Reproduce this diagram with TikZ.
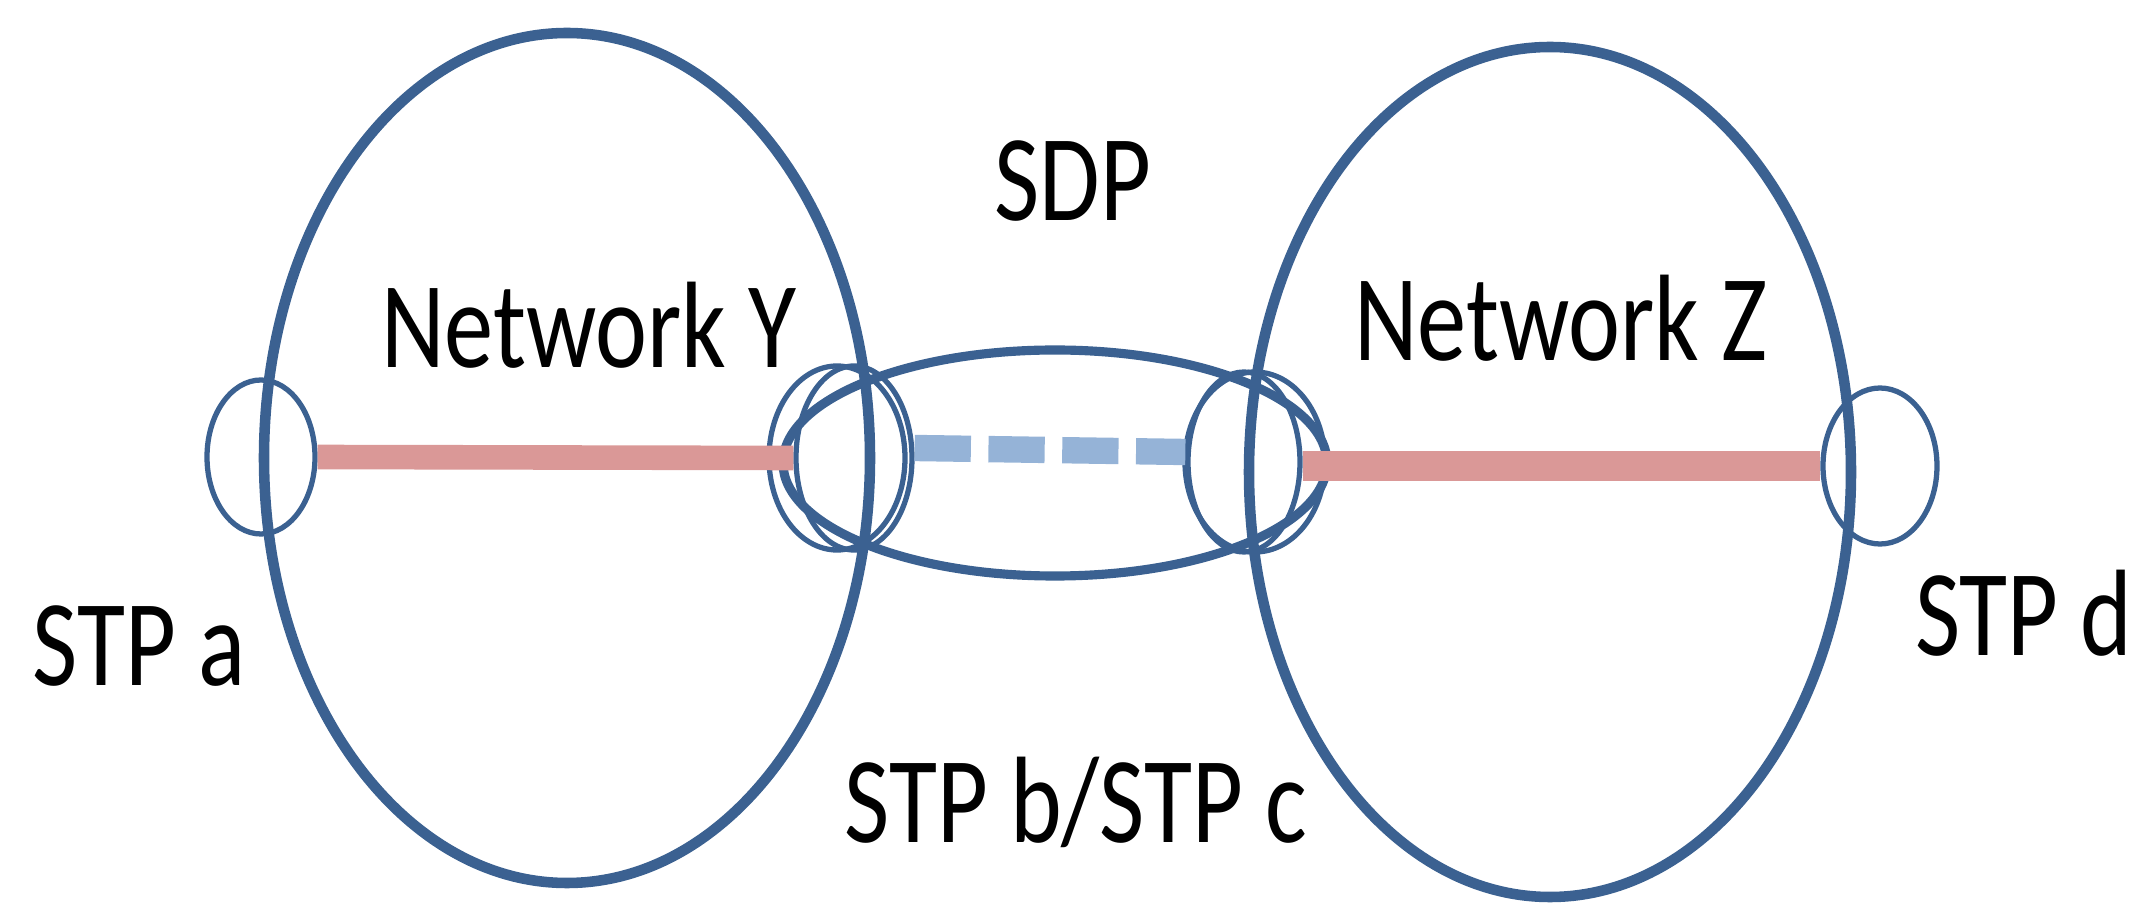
\documentclass[tikz,border=0pt]{standalone}
\usepackage{fontspec}
\setmainfont{Carlito}[FakeStretch=0.8]
\usetikzlibrary{shapes.geometric}

\definecolor{netblue}{HTML}{3B6191}
\definecolor{linkred}{HTML}{DA9897}
\definecolor{linkblue}{HTML}{95B3D7}

\tikzset{
  net/.style={draw=netblue, line width=3pt, ellipse, inner sep=0pt},
  stp/.style={draw=netblue, line width=1.5pt, ellipse, inner sep=0pt},
  link/.style={draw=linkred, line width=7pt},
  sdplink/.style={draw=linkblue, line width=7.5pt, dash pattern=on 16pt off 5pt},
  lbl/.style={font=\fontsize{35}{40}\selectfont, anchor=base, inner sep=0pt},
}

\begin{document}
\begin{tikzpicture}
  \useasboundingbox (0,0) rectangle (21.35,9.06);

  % the two networks and the SDP between them
  \node[net, minimum width=6.06cm, minimum height=8.5cm] (nety) at (5.67,4.48) {};
  \node[net, minimum width=6.02cm, minimum height=8.5cm] (netz) at (15.50,4.34) {};
  \node[net, line width=2.6pt, minimum width=5.44cm, minimum height=2.26cm] (sdp) at (10.55,4.43) {};

  % signal transfer points
  \node[stp, minimum width=1.08cm, minimum height=1.54cm] (stpa) at (2.61,4.49) {};
  \node[stp, minimum width=1.36cm, minimum height=1.84cm] (stpb) at (8.37,4.48) {};
  \node[stp, minimum width=1.16cm, minimum height=1.84cm] (stpbb) at (8.54,4.48) {};
  \node[stp, minimum width=1.12cm, minimum height=1.80cm] (stpc) at (12.44,4.44) {};
  \node[stp, minimum width=1.40cm, minimum height=1.80cm] (stpcc) at (12.55,4.44) {};
  \node[stp, minimum width=1.14cm, minimum height=1.56cm] (stpd) at (18.80,4.40) {};

  % links
  \draw[link] (stpa.east) -- (stpbb.west);
  \draw[link, line width=8.5pt] (stpc.east |- stpd) -- (stpd.west);
  \draw[sdplink] ([yshift=1mm]stpbb.east) -- ([yshift=1mm]stpc.west);

  % labels
  \node[lbl] (sdplbl) at (10.73,6.85) {SDP};
  \node[lbl] (netylbl) at (5.89,5.38) {Network Y};
  \node[lbl] (netzlbl) at (15.61,5.45) {Network Z};
  \node[lbl] (stpalbl) at (1.39,2.20) {STP a};
  \node[lbl] (stpbclbl) at (10.76,0.63) {STP b/STP c};
  \node[lbl] (stpdlbl) at (20.24,2.50) {STP d};
\end{tikzpicture}
\end{document}
